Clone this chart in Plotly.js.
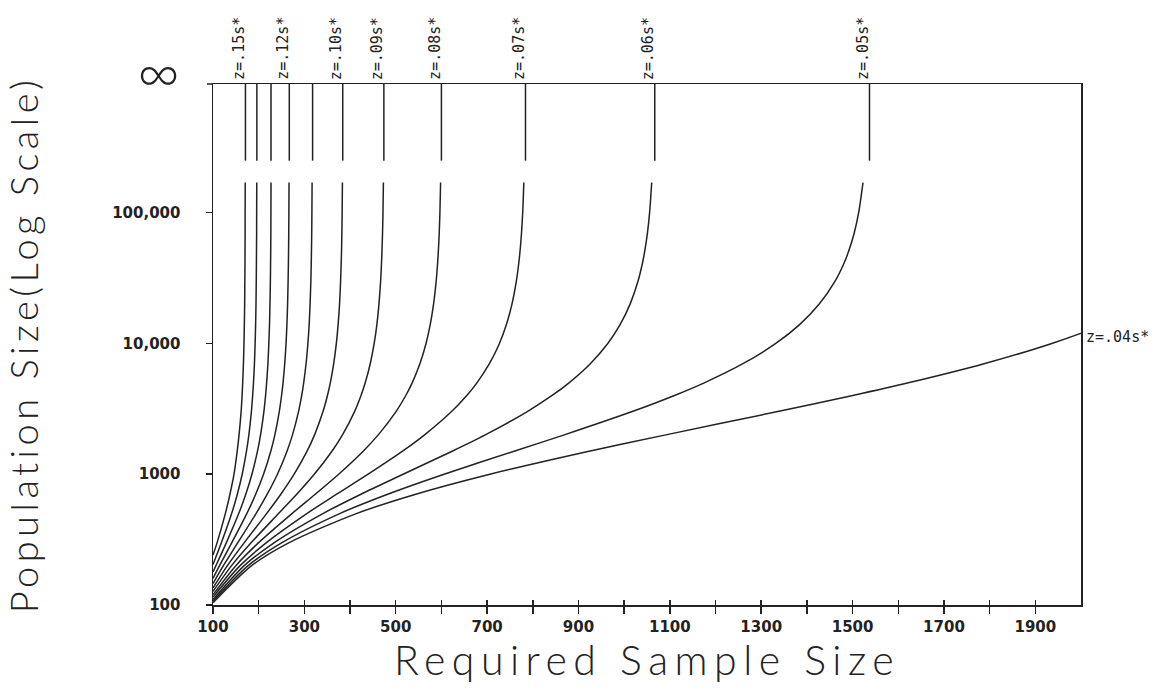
<!DOCTYPE html>
<html><head><meta charset="utf-8">
<script src="https://cdn.plot.ly/plotly-3.0.1.min.js"></script>
<style>
html,body{margin:0;padding:0;background:#fff;} #chart{width:1155px;height:692px;}
#chart .xtitle{letter-spacing:6.5px;}
#chart .ytitle{letter-spacing:4.5px;}
</style>
</head><body><div id="chart"></div>
<script>
// ---- data ----
const zValues = ['.15', '.14', '.13', '.12', '.11', '.10', '.09', '.08', '.07', '.06', '.05', '.04'];
// sample size reached when the population is infinite (vertical segments at top)
const asymptote = [171, 196, 227, 267, 318, 384, 474, 600, 784, 1067, 1537, 2401];
// population at which each curve enters the chart at sample size 100
const entryPopulation = [241, 204, 179, 160, 146, 135, 127, 120, 115, 110, 107, 104];
// population grid (y) shared by all curves
const population = [200, 300, 500, 700, 1000, 1500, 2000, 3000, 4000, 5000, 7000, 10000, 14000, 20000, 30000, 40000, 50000, 70000, 100000, 170000];
// required sample size (x) for each curve at the population grid
const sampleZ15 = [null, 109, 127, 137, 146, 153, 157, 161.5, 163.7, 165, 166.6, 167.8, 168.6, 169.3, 169.7, 170, 170.1, 170.3, 170.4, 170.5];
const sampleZ14 = [null, 118.5, 140.8, 153.1, 163.9, 173.3, 178.5, 184, 186.8, 188.6, 190.7, 192.2, 193.3, 194.1, 194.7, 195, 195.2, 195.5, 195.6, 195.8];
const sampleZ13 = [106.4, 129.3, 156.3, 171.6, 185.2, 197.4, 204.1, 211.3, 215.1, 217.4, 220.2, 222.2, 223.7, 224.7, 225.6, 226, 226.3, 226.6, 226.8, 227];
const sampleZ12 = [114.3, 141.2, 174, 193.2, 210.6, 226.5, 235.4, 245, 250.1, 253.3, 257, 259.9, 261.8, 263.3, 264.4, 265, 265.4, 265.8, 266.1, 266.4];
const sampleZ11 = [122.7, 154.3, 194.2, 218.4, 241, 262, 274, 287.1, 294.2, 298.5, 303.7, 307.7, 310.5, 312.5, 314.2, 315, 315.5, 316.1, 316.5, 316.9];
const sampleZ10 = [131.5, 168.5, 217.3, 248.1, 277.6, 305.9, 322.3, 340.6, 350.5, 356.8, 364.2, 370, 373.9, 377, 379.3, 380.5, 381.3, 382.1, 382.7, 383.3];
const sampleZ09 = [140.7, 183.8, 243.4, 282.7, 321.7, 360.4, 383.4, 409.6, 424, 433.2, 444.2, 452.8, 458.8, 463.3, 466.9, 468.7, 469.8, 471.1, 472.1, 473];
const sampleZ08 = [150, 200, 272.8, 323.2, 375.1, 428.7, 461.7, 500.2, 522, 536, 552.9, 566.3, 575.6, 582.8, 588.5, 591.4, 593.2, 595.2, 596.7, 598.2];
const sampleZ07 = [159.3, 217, 305.3, 369.8, 439.5, 514.9, 563.2, 621.6, 655.5, 677.7, 705, 727, 742.4, 754.4, 764, 768.9, 771.9, 775.3, 777.9, 780.4];
const sampleZ06 = [168.4, 234.2, 340.5, 422.7, 516.2, 623.5, 695.8, 787.1, 842.3, 879.3, 925.9, 964.1, 991.4, 1013, 1030.4, 1039.3, 1044.7, 1051, 1055.7, 1060.3];
const sampleZ05 = [177, 251, 377.3, 480.9, 605.8, 759, 869, 1016.1, 1110.1, 1175.4, 1260, 1331.9, 1384.6, 1427, 1461.7, 1479.8, 1490.8, 1503.6, 1513.3, 1522.8];
const sampleZ04 = [184.6, 266.7, 413.8, 542, 706, 923.2, 1091.1, 1333.6, 1500.4, 1622.1, 1787.8, 1936.1, 2049.5, 2143.6, null, null, null, null, null, null];
const samples = [sampleZ15, sampleZ14, sampleZ13, sampleZ12, sampleZ11, sampleZ10, sampleZ09, sampleZ08, sampleZ07, sampleZ06, sampleZ05, sampleZ04];
// which curves are labelled
const topLabelled = ['.15', '.12', '.10', '.09', '.08', '.07', '.06', '.05'];
const rightLabelled = ['.04'];
const rightLabelPopulation = [11300];
// infinite-population segment span (y)
const infinitySpan = [250000, 1200000];
// axis ticks
const xTickVals = [100, 200, 300, 400, 500, 600, 700, 800, 900, 1000, 1100, 1200, 1300, 1400, 1500, 1600, 1700, 1800, 1900];
const xTickText = ['100', '', '300', '', '500', '', '700', '', '900', '', '1100', '', '1300', '', '1500', '', '1700', '', '1900'];
const yTickVals = [100, 1000, 10000, 100000];
const yTickText = ['100', '1000', '10,000', '100,000'];

// ---- build traces ----
const ink = '#222';
const traces = [];
samples.forEach((s, i) => {
  const xs = [100], ys = [entryPopulation[i]];
  s.forEach((v, j) => { if (v !== null) { xs.push(v); ys.push(population[j]); } });
  traces.push({x: xs, y: ys, type: 'scatter', mode: 'lines', line: {color: ink, width: 1.5, shape: 'spline', smoothing: 0.8}, hoverinfo: 'skip', showlegend: false});
});
asymptote.forEach((a) => {
  if (a > 2000) return;
  traces.push({x: [a, a], y: infinitySpan, type: 'scatter', mode: 'lines', line: {color: ink, width: 1.5}, hoverinfo: 'skip', showlegend: false});
});
// dummy trace for the crossing-tick overlay axis
traces.push({x: [100], y: [100], xaxis: 'x2', type: 'scatter', mode: 'markers', marker: {opacity: 0}, hoverinfo: 'skip', showlegend: false});

const labelFont = {family: 'DejaVu Sans Mono, Liberation Mono, monospace', size: 15, color: ink};
const annotations = [];
topLabelled.forEach(z => {
  const i = zValues.indexOf(z);
  annotations.push({x: asymptote[i], y: 1, xref: 'x', yref: 'paper', text: 'z=' + z + 's*', showarrow: false,
    textangle: -90, xanchor: 'right', yanchor: 'bottom', xshift: 4, yshift: 2, font: labelFont});
});
rightLabelled.forEach((z, k) => {
  annotations.push({x: 1, y: Math.log10(rightLabelPopulation[k]), xref: 'paper', yref: 'y', text: 'z=' + z + 's*', showarrow: false,
    xanchor: 'left', yanchor: 'middle', xshift: 3, font: {family: labelFont.family, size: 15, color: ink}});
});
annotations.push({x: 0, y: 1, xref: 'paper', yref: 'paper', text: '\u221E', showarrow: false, xanchor: 'center', yanchor: 'middle',
  xshift: -55, yshift: 14, font: {family: 'Lato, DejaVu Sans', size: 58, color: ink, weight: 300}});

const tickFont = {family: 'DejaVu Sans, Arial, sans-serif', size: 15, color: ink, weight: 600};
const titleFont = {family: 'Lato, DejaVu Sans', weight: 300, color: ink};

const layout = {
  width: 1155, height: 692,
  margin: {l: 213, r: 74, t: 84, b: 87},
  paper_bgcolor: '#fff', plot_bgcolor: '#fff',
  showlegend: false,
  xaxis: {range: [100, 2000], tickvals: xTickVals, ticktext: xTickText, ticks: 'outside', ticklen: 7, tickwidth: 1.5, tickcolor: ink,
    showline: true, mirror: true, linecolor: ink, linewidth: 1.5, showgrid: false, zeroline: false, tickfont: tickFont,
    title: {text: 'Required Sample Size', font: Object.assign({size: 41}, titleFont), standoff: 8}},
  xaxis2: {range: [100, 2000], overlaying: 'x', anchor: 'y', side: 'bottom', tickvals: xTickVals, ticks: 'inside', ticklen: 5, tickwidth: 1.5,
    tickcolor: ink, showticklabels: false, showline: false, showgrid: false, zeroline: false},
  yaxis: {type: 'log', range: [2, 5.984], tickvals: yTickVals, ticktext: yTickText, ticks: 'outside', ticklen: 6, tickwidth: 1.5, tickcolor: ink,
    showline: true, mirror: true, linecolor: ink, linewidth: 1.5, showgrid: false, zeroline: false, tickfont: tickFont, ticklabelstandoff: 22,
    title: {text: 'Population Size(Log Scale)', font: Object.assign({size: 38}, titleFont), standoff: 66}},
  annotations: annotations,
  shapes: [{type: 'line', xref: 'paper', yref: 'paper', x0: -0.007, x1: 0, y0: 1, y1: 1, line: {color: ink, width: 1.5}}]
};
Plotly.newPlot('chart', traces, layout, {displayModeBar: false, staticPlot: true});
</script></body></html>
